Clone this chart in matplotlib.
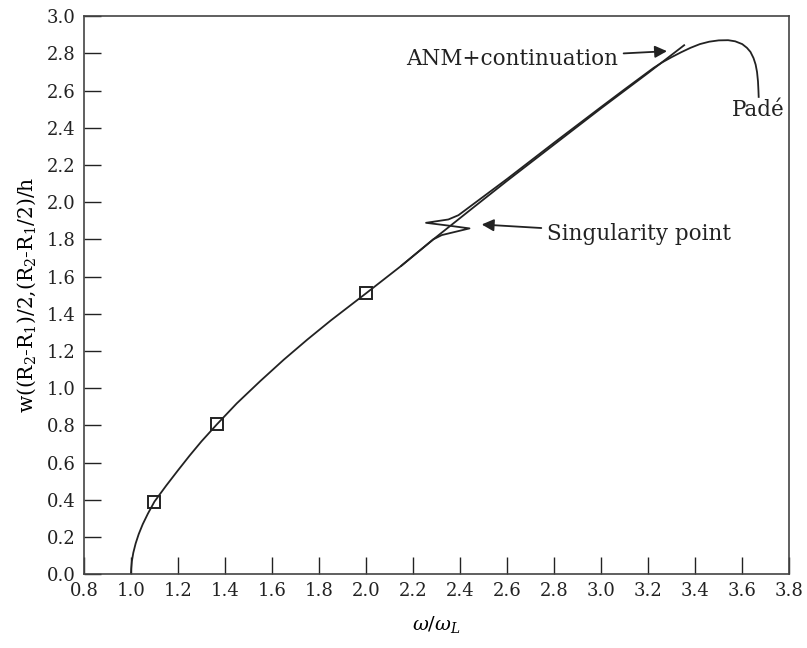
import matplotlib
matplotlib.use("Agg")
import matplotlib.pyplot as plt

# ANM + continuation branch
anm_x = [1.000, 1.001, 1.004, 1.010, 1.020, 1.033, 1.050, 1.072, 1.100, 1.150, 1.200,
         1.250, 1.300, 1.366, 1.450, 1.550, 1.650, 1.750, 1.850, 2.000, 2.150, 2.286,
         2.450, 2.600, 2.800, 3.000, 3.200, 3.353]
anm_y = [0.000, 0.030, 0.070, 0.115, 0.165, 0.215, 0.268, 0.325, 0.390, 0.476, 0.558,
         0.638, 0.714, 0.806, 0.918, 1.038, 1.153, 1.261, 1.364, 1.510, 1.658, 1.800,
         1.965, 2.115, 2.310, 2.505, 2.695, 2.844]

# Padé branch (diverges near the singularity and at the top)
pade_x = [2.150, 2.286, 2.322, 2.440, 2.357, 2.255, 2.350, 2.393, 2.600, 2.800, 3.000,
          3.100, 3.223, 3.260, 3.300, 3.340, 3.380, 3.420, 3.460, 3.500, 3.540, 3.570,
          3.600, 3.620, 3.635, 3.648, 3.657, 3.663, 3.667, 3.669, 3.670]
pade_y = [1.658, 1.800, 1.823, 1.859, 1.873, 1.889, 1.907, 1.930, 2.125, 2.320, 2.512,
          2.607, 2.722, 2.752, 2.780, 2.806, 2.830, 2.850, 2.863, 2.870, 2.871, 2.865,
          2.850, 2.830, 2.808, 2.775, 2.740, 2.700, 2.650, 2.600, 2.566]

# Square markers
mark_x = [1.10, 1.366, 2.00]
mark_y = [0.39, 0.806, 1.51]

xticks = [0.8, 1.0, 1.2, 1.4, 1.6, 1.8, 2.0, 2.2, 2.4, 2.6, 2.8, 3.0, 3.2, 3.4, 3.6, 3.8]
yticks = [0.0, 0.2, 0.4, 0.6, 0.8, 1.0, 1.2, 1.4, 1.6, 1.8, 2.0, 2.2, 2.4, 2.6, 2.8, 3.0]

plt.rcParams['font.family'] = ['DejaVu Serif']
plt.rcParams['mathtext.fontset'] = 'dejavuserif'

fig = plt.figure(figsize=(8.07, 6.48), dpi=100)
ax = fig.add_axes([0.104, 0.114, 0.874, 0.861])

col = '#222222'
ax.plot(anm_x, anm_y, color=col, lw=1.3, solid_joinstyle='round')
ax.plot(pade_x, pade_y, color=col, lw=1.3, solid_joinstyle='round')
ax.plot(mark_x, mark_y, linestyle='none', marker='s', ms=8, mfc='none', mec=col, mew=1.4)

ax.set_xlim(0.8, 3.8)
ax.set_ylim(0.0, 3.0)
ax.set_xticks(xticks)
ax.set_yticks(yticks)
ax.set_xticklabels([f"{v:.1f}" for v in xticks])
ax.set_yticklabels([f"{v:.1f}" for v in yticks])
ax.tick_params(direction='in', length=12, width=1, labelsize=13, pad=6, colors=col,
               top=False, right=False)
for s in ax.spines.values():
    s.set_color('#444444')
    s.set_linewidth(1.2)

ax.set_xlabel(r'$\omega/\omega_L$', fontsize=14, labelpad=10)
ax.set_ylabel(r'w((R$_2$-R$_1$)/2,(R$_2$-R$_1$/2)/h', fontsize=14.5, labelpad=6)

ax.annotate('ANM+continuation', xy=(3.28, 2.812), xytext=(3.072, 2.769),
            ha='right', va='center', fontsize=15.5, color=col,
            arrowprops=dict(arrowstyle='-|>', color=col, lw=1.3, mutation_scale=18,
                            shrinkA=2, shrinkB=0))
ax.annotate('Singularity point', xy=(2.492, 1.88), xytext=(2.769, 1.83),
            ha='left', va='center', fontsize=15.5, color=col,
            arrowprops=dict(arrowstyle='-|>', color=col, lw=1.3, mutation_scale=18,
                            shrinkA=2, shrinkB=0))
ax.text(3.557, 2.495, 'Padé', ha='left', va='center', fontsize=15.5, color=col)

fig.savefig('out.png', dpi=100)
